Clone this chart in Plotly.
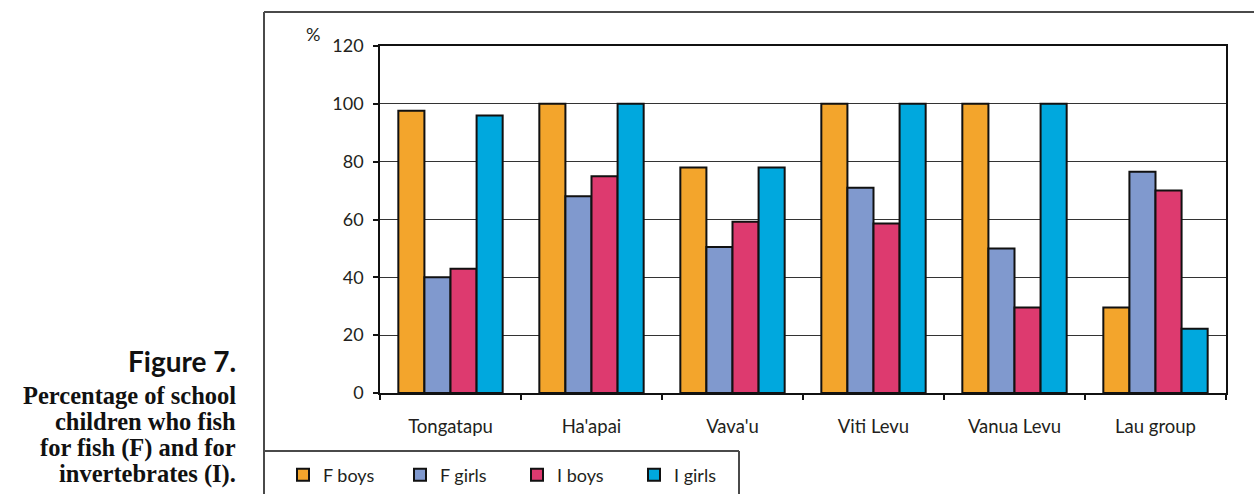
import plotly.graph_objects as go

# Survey results: share of school children who fish, by island group
categories = ["Tongatapu", "Ha'apai", "Vava'u", "Viti Levu", "Vanua Levu", "Lau group"]
series_names = ["F boys", "F girls", "I boys", "I girls"]
f_boys = [97.6, 100, 78, 100, 100, 29.6]
f_girls = [40, 68, 50.5, 71, 50, 76.5]
i_boys = [43, 75, 59.2, 58.6, 29.6, 70]
i_girls = [96, 100, 78, 100, 100, 22.2]
y_ticks = [0, 20, 40, 60, 80, 100, 120]

series_values = [f_boys, f_girls, i_boys, i_girls]
colors = ["#F3A52C", "#8099CE", "#DD3A6F", "#00A8DE"]

W, H = 1254, 494
L, R, T, B = 380, 28, 46, 101
PW, PH = W - L - R, H - T - B


def px_x(x):
    return (x - L) / PW


def px_y(y):
    return 1 - (y - T) / PH


FONT = "Lato, 'Open Sans', sans-serif"
TXT = "#231F20"

fig = go.Figure()
for name, vals, col in zip(series_names, series_values, colors):
    fig.add_trace(go.Bar(
        x=categories, y=vals, name=name,
        marker=dict(color=col, line=dict(color="#111111", width=2)),
    ))

fig.update_layout(
    width=W, height=H,
    margin=dict(l=L, r=R, t=T, b=B, autoexpand=False),
    paper_bgcolor="white", plot_bgcolor="white",
    barmode="group", bargap=0.26, bargroupgap=0,
    font=dict(family=FONT, size=18, color=TXT),
    showlegend=True,
    legend=dict(
        orientation="h", x=px_x(283), y=px_y(475), xanchor="left", yanchor="middle",
        font=dict(family=FONT, size=18, color=TXT),
        entrywidth=72, entrywidthmode="pixels",
        bgcolor="rgba(0,0,0,0)", borderwidth=0,
    ),
)

fig.update_yaxes(
    range=[0, 120], tickvals=y_ticks, ticktext=[str(v) for v in y_ticks],
    showline=True, linecolor="#111111", linewidth=1.5, mirror=True,
    ticks="outside", ticklen=5, tickcolor="#111111", tickwidth=1.5,
    showgrid=True, gridcolor="#333333", gridwidth=1.3,
    zeroline=False, ticklabelstandoff=6, automargin=False,
    tickfont=dict(family=FONT, size=18, color=TXT),
)
fig.update_xaxes(
    type="category", tickson="boundaries",
    showline=True, linecolor="#111111", linewidth=1.5, mirror=True,
    ticks="outside", ticklen=5, tickcolor="#111111", tickwidth=1.5,
    showgrid=False, ticklabelstandoff=16, automargin=False,
    tickfont=dict(family=FONT, size=18.5, color=TXT),
)

# Outer frame and legend box
frame = dict(color="#4A4A4A", width=2)
shapes = [
    dict(type="line", xref="paper", yref="paper",
         x0=px_x(264), x1=px_x(1254), y0=px_y(12), y1=px_y(12), line=frame),
    dict(type="line", xref="paper", yref="paper",
         x0=px_x(264), x1=px_x(264), y0=px_y(12), y1=px_y(494), line=frame),
    dict(type="line", xref="paper", yref="paper",
         x0=px_x(264), x1=px_x(739), y0=px_y(451), y1=px_y(451), line=frame),
    dict(type="line", xref="paper", yref="paper",
         x0=px_x(739), x1=px_x(739), y0=px_y(451), y1=px_y(494), line=frame),
]
fig.update_layout(shapes=shapes)

annotations = [
    dict(text="%", x=px_x(313), y=px_y(34), xref="paper", yref="paper",
         showarrow=False, xanchor="center", yanchor="middle",
         font=dict(family=FONT, size=18, color=TXT)),
    dict(text="<b>Figure 7.</b>", x=px_x(238), y=px_y(361), xref="paper", yref="paper",
         showarrow=False, xanchor="right", yanchor="middle",
         font=dict(family=FONT, size=28, color="#111111")),
]
caption = ["Percentage of school", "children who fish", "for fish (F) and for", "invertebrates (I)."]
for i, line in enumerate(caption):
    annotations.append(dict(
        text=f"<b>{line}</b>", x=px_x(238), y=px_y(395 + 26.3 * i),
        xref="paper", yref="paper", showarrow=False,
        xanchor="right", yanchor="middle",
        font=dict(family="'Liberation Serif', serif", size=24.5, color="#111111"),
    ))
fig.update_layout(annotations=annotations)

fig.write_html("out.html")
